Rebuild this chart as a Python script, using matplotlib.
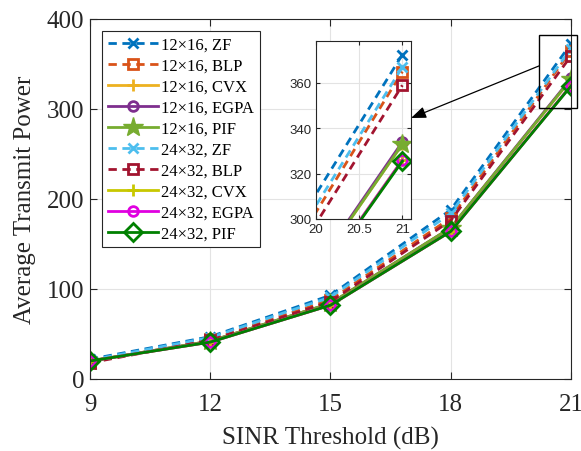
import numpy as np
import matplotlib
matplotlib.use('Agg')
from matplotlib import pyplot as plt
from matplotlib.patches import Rectangle

# SINR threshold (dB)
sinr = [9, 12, 15, 18, 21]

# average transmit power, 12x16 system
zf_12 = [22, 47, 93, 188, 372.5]
blp_12 = [19, 44, 88, 179, 365]
cvx_12 = [20, 42, 84, 168, 333]
egpa_12 = [20, 42, 84, 168, 334]
pif_12 = [20, 42, 84, 168, 333]

# average transmit power, 24x32 system
zf_24 = [21, 46, 91, 184, 367]
blp_24 = [18, 43, 86, 176, 359]
cvx_24 = [20, 41, 82, 164, 326]
egpa_24 = [20, 41, 82, 164, 326]
pif_24 = [20, 41, 82, 164, 325.5]

labels = ['12\u00d716, ZF', '12\u00d716, BLP', '12\u00d716, CVX', '12\u00d716, EGPA', '12\u00d716, PIF',
          '24\u00d732, ZF', '24\u00d732, BLP', '24\u00d732, CVX', '24\u00d732, EGPA', '24\u00d732, PIF']

series = [zf_12, blp_12, cvx_12, egpa_12, pif_12, zf_24, blp_24, cvx_24, egpa_24, pif_24]

# (color, linestyle, marker, markersize)
styles = [
    ('#0072BD', '--', 'x', 7),
    ('#D95319', '--', 's', 7),
    ('#EDB120', '-', '+', 9),
    ('#7E2F8E', '-', 'o', 7),
    ('#77AC30', '-', '*', 15),
    ('#4DBEEE', '--', 'x', 7),
    ('#A2142F', '--', 's', 7),
    ('#C8C800', '-', '+', 9),
    ('#E000E0', '-', 'o', 7),
    ('#008000', '-', 'D', 9),
]

plt.rcParams['font.family'] = ['Liberation Serif', 'DejaVu Serif']

fig = plt.figure(figsize=(5.81, 4.52), dpi=100)
ax = fig.add_axes([90 / 581, 72 / 452, 481 / 581, 360 / 452])


def draw(axis, dashes=(3, 2)):
    handles = []
    for y, lab, (c, ls, mk, ms) in zip(series, labels, styles):
        kw = dict(color=c, lw=2.0, marker=mk, markersize=ms,
                  markeredgewidth=2.0, markerfacecolor='none', label=lab)
        if mk == '*':
            kw['markerfacecolor'] = c
            kw['markeredgewidth'] = 1.0
        if ls == '--':
            kw['dashes'] = dashes
        h, = axis.plot(sinr, y, **kw)
        handles.append(h)
    return handles


handles = draw(ax)
ax.set_xlim(9, 21)
ax.set_ylim(0, 400)
ax.set_xticks([9, 12, 15, 18, 21])
ax.set_yticks([0, 100, 200, 300, 400])
ax.tick_params(direction='in', top=True, right=True, labelsize=18, length=5,
               width=0.8, colors='#262626')
ax.tick_params(axis='x', pad=10)
ax.tick_params(axis='y', pad=4)
ax.grid(True, color='#e3e3e3', lw=0.8)
ax.set_axisbelow(True)
for s in ax.spines.values():
    s.set_color('#262626')
    s.set_linewidth(0.8)
ax.set_xlabel('SINR Threshold (dB)', fontsize=18, color='#262626', labelpad=8)
ax.set_ylabel('Average Transmit Power', fontsize=18, color='#262626', labelpad=8)

leg = ax.legend(handles=handles, loc='upper left', bbox_to_anchor=(0.0256, 0.9675),
                borderaxespad=0, fontsize=12, numpoints=1, handlelength=3.0,
                handletextpad=0.2, labelspacing=0.3, borderpad=0.35,
                fancybox=False, framealpha=1)
leg.get_frame().set_edgecolor('#262626')
leg.get_frame().set_linewidth(0.8)

# zoom window on the main axes
ax.add_patch(Rectangle((20.21, 301), 0.93, 81, fill=False, ec='black', lw=1.0,
                       clip_on=False, zorder=5))
ax.annotate('', xy=(17.01, 290), xytext=(20.21, 348),
            arrowprops=dict(arrowstyle='-|>,head_length=0.9,head_width=0.35',
                            color='black', lw=0.9, shrinkA=0, shrinkB=0), zorder=6)

# inset
axin = fig.add_axes([316 / 581, 232 / 452, 95 / 581, 178 / 452])
draw(axin)
axin.set_xlim(20, 21.1)
axin.set_ylim(300, 378.5)
axin.set_xticks([20, 20.5, 21])
axin.set_xticklabels(['20', '20.5', '21'])
axin.set_yticks([300, 320, 340, 360])
for t in axin.get_xticklabels() + axin.get_yticklabels():
    t.set_family(['Liberation Sans', 'DejaVu Sans'])
axin.tick_params(direction='in', top=True, right=True, labelsize=9.5, length=3,
                 width=0.8, colors='#262626', pad=3)
axin.grid(True, color='#e3e3e3', lw=0.8)
axin.set_axisbelow(True)
for s in axin.spines.values():
    s.set_color('#262626')
    s.set_linewidth(0.8)

fig.savefig('out.png', dpi=100)
